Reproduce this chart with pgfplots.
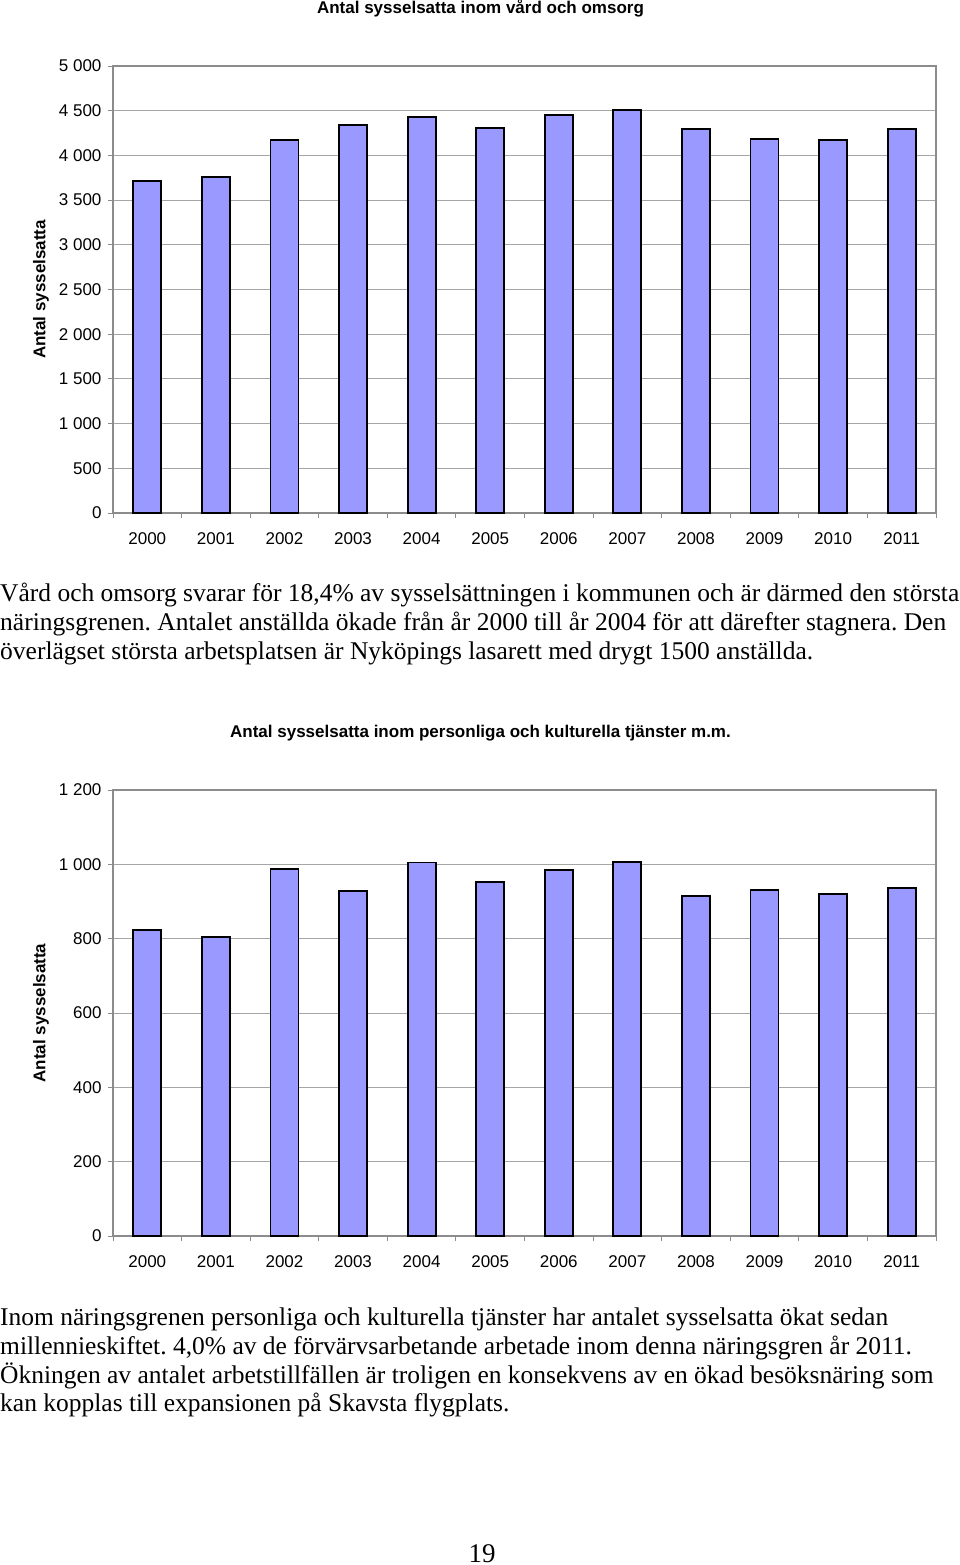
\documentclass[border=0pt]{standalone}
\usepackage{fontspec}
\setmainfont{Liberation Serif}
\newfontfamily\arial{Liberation Sans}
\usepackage{pgfplots}
\pgfplotsset{compat=1.18}
\frenchspacing

\definecolor{barfill}{HTML}{9999FF}
\definecolor{gridgray}{HTML}{A6A6A6}
\definecolor{axisgray}{HTML}{8C8C8C}

\newcommand{\chartfont}{\arial\fontsize{17}{20}\selectfont}
\newcommand{\bodyfont}{\fontsize{25.5}{29}\selectfont}

\pgfplotsset{
  excelbars/.style={
    ybar, bar width=28pt,
    scale only axis, width=823pt,
    anchor=south west,
    xmin=-0.5, xmax=11.5,
    xtick={-0.5,0.5,...,11.5},
    x tick label as interval=true,
    xticklabels={2000,2001,2002,2003,2004,2005,2006,2007,2008,2009,2010,2011},
    xtick pos=bottom, ytick pos=left,
    tick align=outside,
    major tick length=5pt,
    tick style={axisgray, line width=1pt},
    axis line style={axisgray, line width=1.2pt},
    ymajorgrids, grid style={gridgray, line width=1pt},
    ymin=0,
    ticklabel style={font=\chartfont},
    yticklabel style={xshift=-3pt},
    xticklabel style={yshift=-11pt},
    /pgf/number format/.cd, 1000 sep={\ }, assume math mode=true,
  },
  excelbarstyle/.style={fill=barfill, draw=black, line width=1.8pt},
}

\begin{document}
\begin{tikzpicture}
\useasboundingbox (0,0) rectangle (960pt,-1565pt);

% --- chart 1 ---
\node[anchor=base, font=\chartfont\bfseries] at (480.5pt,-14pt) {Antal sysselsatta inom vård och omsorg};
\node[rotate=90, font=\chartfont\bfseries] at (41pt,-289.5pt) {Antal sysselsatta};
\begin{axis}[excelbars, at={(113pt,-513pt)}, height=447pt,
  ymax=5000, ytick={0,500,...,5000}]
\addplot[excelbarstyle] coordinates {
  (0,3714) (1,3755) (2,4172) (3,4340) (4,4426) (5,4306)
  (6,4452) (7,4508) (8,4295) (9,4180) (10,4172) (11,4295)};
\end{axis}

\node[anchor=base west, inner sep=0, font=\bodyfont] at (0,-601pt)
  {Vård och omsorg svarar för 18,4\% av sysselsättningen i kommunen och är därmed den största};
\node[anchor=base west, inner sep=0, font=\bodyfont] at (0,-630pt)
  {näringsgrenen. Antalet anställda ökade från år 2000 till år 2004 för att därefter stagnera. Den};
\node[anchor=base west, inner sep=0, font=\bodyfont] at (0,-659pt)
  {överlägset största arbetsplatsen är Nyköpings lasarett med drygt 1500 anställda.};

% --- chart 2 ---
\node[anchor=base, font=\chartfont\bfseries] at (480.5pt,-737pt) {Antal sysselsatta inom personliga och kulturella tjänster m.m.};
\node[rotate=90, font=\chartfont\bfseries] at (41pt,-1013pt) {Antal sysselsatta};
\begin{axis}[excelbars, at={(113pt,-1236pt)}, height=446pt,
  ymax=1200, ytick={0,200,...,1200}]
\addplot[excelbarstyle] coordinates {
  (0,823) (1,805) (2,987) (3,929) (4,1005) (5,952)
  (6,985) (7,1007) (8,914) (9,931) (10,920) (11,937)};
\end{axis}

\node[anchor=base west, inner sep=0, font=\bodyfont] at (0,-1325pt)
  {Inom näringsgrenen personliga och kulturella tjänster har antalet sysselsatta ökat sedan};
\node[anchor=base west, inner sep=0, font=\bodyfont] at (0,-1354pt)
  {millennieskiftet. 4,0\% av de förvärvsarbetande arbetade inom denna näringsgren år 2011.};
\node[anchor=base west, inner sep=0, font=\bodyfont] at (0,-1383pt)
  {Ökningen av antalet arbetstillfällen är troligen en konsekvens av en ökad besöksnäring som};
\node[anchor=base west, inner sep=0, font=\bodyfont] at (0,-1411pt)
  {kan kopplas till expansionen på Skavsta flygplats.};

\node[anchor=base, inner sep=0, font=\fontsize{27}{30}\selectfont] at (482pt,-1562pt) {19};
\end{tikzpicture}
\end{document}
